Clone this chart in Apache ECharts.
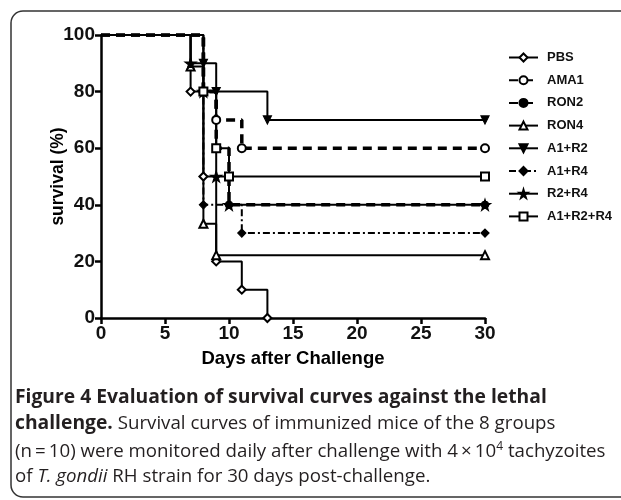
<!DOCTYPE html>
<html>
<head>
<meta charset="utf-8">
<script src="https://cdn.jsdelivr.net/npm/echarts@6/dist/echarts.min.js"></script>
<style>
  html, body { margin: 0; padding: 0; background: #fff; }
  #chart { width: 621px; height: 500px; }
</style>
</head>
<body>
<div id="chart"></div>
<script>
// survival data, [day, % survival]
var groupNames = ['PBS', 'AMA1', 'RON2', 'RON4', 'A1+R2', 'A1+R4', 'R2+R4', 'A1+R2+R4'];
var pbs = [[0, 100], [7, 80], [8, 50], [9, 20], [11, 10], [13, 0]];
var ama1 = [[0, 100], [8, 80], [9, 70], [11, 60], [30, 60]];
var ron2 = [[0, 100], [8, 80], [9, 60], [10, 40], [30, 40]];
var ron4 = [[0, 100], [7, 88.9], [8, 33.3], [9, 22.2], [30, 22.2]];
var a1r2 = [[0, 100], [8, 90], [9, 80], [13, 70], [30, 70]];
var a1r4 = [[0, 100], [8, 40], [11, 30], [30, 30]];
var r2r4 = [[0, 100], [7, 90], [8, 80], [9, 50], [10, 40], [30, 40]];
var a1r2r4 = [[0, 100], [8, 80], [9, 60], [10, 50], [30, 50]];
var xTicks = [0, 5, 10, 15, 20, 25, 30];
var yTicks = [0, 20, 40, 60, 80, 100];

var starPath = 'path://M50,0 L61,35 L98,35 L68,57 L79,91 L50,70 L21,91 L32,57 L2,35 L39,35 Z';

function markSize(s) {
    return function (v, p) { return p.dataIndex === 0 ? 0 : s; };
}

function curve(name, data, sym, size, width, dash, rotate) {
    return {
        name: name,
        type: 'line',
        step: 'end',
        data: data,
        symbol: sym,
        symbolSize: markSize(size),
        symbolRotate: rotate || 0,
        showAllSymbol: true,
        itemStyle: { color: '#000', borderColor: '#000', borderWidth: 1.2 },
        lineStyle: { color: '#000', width: width, type: dash },
        emphasis: { disabled: true },
        animation: false
    };
}

var chart = echarts.init(document.getElementById('chart'));

var option = {
    backgroundColor: '#fff',
    grid: { left: 101, right: 136, top: 35, bottom: 182 },
    legend: {
        orient: 'vertical',
        left: 503,
        top: 46,
        itemWidth: 29,
        itemHeight: 10,
        itemGap: 9.7,
        data: groupNames,
        textStyle: { fontFamily: 'Liberation Sans', fontWeight: 'bold', fontSize: 13, color: '#111', padding: [0, 0, 0, 4] }
    },
    xAxis: {
        type: 'value',
        min: 0, max: 30, interval: 5,
        name: 'Days after Challenge',
        nameLocation: 'middle',
        nameGap: 31,
        nameMoveOverlap: false,
        nameTextStyle: { fontFamily: 'Liberation Sans', fontWeight: 'bold', fontSize: 18.5, color: '#000' },
        axisLine: { lineStyle: { color: '#000', width: 2.5 } },
        axisTick: { show: true, length: 6, lineStyle: { color: '#000', width: 2.5 } },
        axisLabel: {
            fontFamily: 'Liberation Sans', fontWeight: 'bold', fontSize: 19, color: '#111', margin: 6,
            formatter: function (v) { return xTicks.indexOf(v) >= 0 ? String(v) : ''; }
        },
        splitLine: { show: false }
    },
    yAxis: {
        type: 'value',
        min: 0, max: 100, interval: 20,
        name: 'survival (%)',
        nameLocation: 'middle',
        nameGap: 34,
        nameMoveOverlap: false,
        nameTextStyle: { fontFamily: 'Liberation Sans', fontWeight: 'bold', fontSize: 17.5, color: '#000' },
        axisLine: { show: true, lineStyle: { color: '#000', width: 2.5 } },
        axisTick: { show: true, length: 6, lineStyle: { color: '#000', width: 2.5 } },
        axisLabel: {
            fontFamily: 'Liberation Sans', fontWeight: 'bold', fontSize: 19, color: '#111', margin: 6,
            formatter: function (v) { return yTicks.indexOf(v) >= 0 ? String(v) : ''; }
        },
        splitLine: { show: false }
    },
    series: [
        curve('PBS', pbs, 'emptyDiamond', 8, 2, 'solid'),
        curve('AMA1', ama1, 'emptyCircle', 8, 3.5, [9, 6]),
        curve('RON2', ron2, 'circle', 7, 3.5, [9, 6]),
        curve('RON4', ron4, 'emptyTriangle', 8, 2, 'solid'),
        curve('A1+R2', a1r2, 'triangle', 8, 2, 'solid', 180),
        curve('A1+R4', a1r4, 'diamond', 8, 2, [7, 3, 2, 3]),
        curve('R2+R4', r2r4, starPath, 11, 2, 'solid'),
        curve('A1+R2+R4', a1r2r4, 'emptyRect', 8, 2, 'solid')
    ],
    graphic: [
        {
            type: 'rect',
            silent: true,
            shape: { x: 11, y: 11, width: 640, height: 486, r: 12 },
            style: { fill: 'none', stroke: '#333', lineWidth: 1.5 }
        },
        {
            type: 'text', left: 15, top: 388,
            style: {
                text: 'Figure 4 Evaluation of survival curves against the lethal',
                font: 'bold 19.3px "Open Sans"', fill: '#231f20'
            }
        },
        {
            type: 'text', left: 15, top: 414,
            style: {
                text: '{b|challenge.} Survival curves of immunized mice of the 8 groups',
                font: '18.7px "Open Sans"', fill: '#231f20',
                rich: { b: { font: 'bold 19.3px "Open Sans"', fill: '#231f20' } }
            }
        },
        {
            type: 'text', left: 15, top: 441,
            style: {
                text: '(n\u2009=\u200910) were monitored daily after challenge with 4\u2009\u00d7\u200910{sup|4} tachyzoites',
                font: '18.7px "Open Sans"', fill: '#231f20',
                rich: { sup: { font: '12px "Open Sans"', fill: '#231f20', verticalAlign: 'top', padding: [0, 0, 9, 0] } }
            }
        },
        {
            type: 'text', left: 15, top: 467,
            style: {
                text: 'of {i|T. gondii} RH strain for 30 days post-challenge.',
                font: '18.7px "Open Sans"', fill: '#231f20',
                rich: { i: { font: 'italic 18.7px "Open Sans"', fill: '#231f20' } }
            }
        }
    ]
};

chart.setOption(option);
</script>
</body>
</html>
